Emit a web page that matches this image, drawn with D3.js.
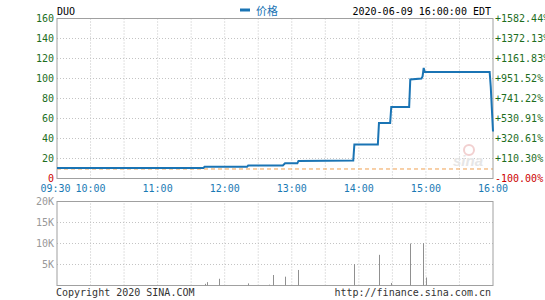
<!DOCTYPE html>
<html>
<head>
<meta charset="utf-8">
<script src="https://cdn.jsdelivr.net/npm/d3@7"></script>
<style>
  body { margin: 0; background: #fff; }
  text { font-family: "DejaVu Sans Mono", monospace; font-size: 10px; }
</style>
</head>
<body>
<div id="chart"></div>
<script>
// price steps (time, price)
const priceTimes = ["09:30","11:41","11:42","12:20","12:21","12:52","12:54","13:05","13:06","13:55","13:56","14:17","14:18","14:28","14:29","14:45","14:46","14:56","14:57","14:58","14:59","15:57","15:58","16:00"];
const prices = [10.6,10.6,11.7,11.7,13.0,13.0,15.2,15.2,17.6,17.9,34,34,55.5,55.5,71.6,71.6,99,100,102,110.6,106.5,106.5,91.5,47];
const volTimes = ["11:42","11:44","11:55","12:21","12:40","12:43","12:54","13:06","13:56","14:18","14:29","14:46","14:57","15:00"];
const volumes = [400,800,1600,500,200,2500,2100,3700,5100,7300,600,10000,10100,1900];
const prevClose = 9.51;
const priceTicks = [0,20,40,60,80,100,120,140,160];
const volTicks = [5000,10000,15000,20000];
const volTickLabels = ["5K","10K","15K","20K"];
const timeLabels = ["09:30","10:00","11:00","12:00","13:00","14:00","15:00","16:00"];

const width = 545, height = 300;
const toMin = s => { const p = s.split(":"); return +p[0]*60 + +p[1]; };

const svg = d3.select("#chart").append("svg")
    .attr("width", width).attr("height", height);

const x = d3.scaleLinear().domain([toMin("09:30"), toMin("16:00")]).range([57, 493]);
const y = d3.scaleLinear().domain([0,160]).range([178.5, 18.5]);
const vy = d3.scaleLinear().domain([0,20000]).range([285.5, 201.5]);

const gridTimes = d3.range(toMin("10:00"), toMin("16:00"), 30);

// grids
function grid(scaleY, ticks, y0, y1){
    svg.append("g").selectAll("line").data(gridTimes).enter().append("line")
        .attr("x1", d => x(d)).attr("x2", d => x(d))
        .attr("y1", y0).attr("y2", y1)
        .attr("stroke", "#c4c4c4").attr("stroke-dasharray", "1,2");
    svg.append("g").selectAll("line").data(ticks).enter().append("line")
        .attr("x1", x.range()[0]).attr("x2", x.range()[1])
        .attr("y1", d => scaleY(d)).attr("y2", d => scaleY(d))
        .attr("stroke", "#c4c4c4").attr("stroke-dasharray", "1,2");
}
grid(y, priceTicks.slice(1, -1), y(0), y(160));
grid(vy, volTicks.slice(0, -1), vy(0), vy(20000));

// watermark
svg.append("text").attr("x", 468).attr("y", 166).attr("text-anchor", "middle")
    .style("font-family", "Liberation Sans").style("font-style", "italic").style("font-weight", "bold")
    .style("font-size", "15px").attr("fill", "#e6e6e6").text("sina");
svg.append("circle").attr("cx", 469).attr("cy", 150).attr("r", 5)
    .attr("fill", "none").attr("stroke", "#f2d0d0").attr("stroke-width", 2);

// previous close
svg.append("line")
    .attr("x1", x.range()[0]).attr("x2", x.range()[1])
    .attr("y1", y(prevClose)).attr("y2", y(prevClose))
    .attr("stroke", "#f0a050").attr("stroke-dasharray", "4,3");

// frames
svg.append("rect").attr("x", 57).attr("y", y(160)).attr("width", 436).attr("height", y(0)-y(160))
    .attr("fill", "none").attr("stroke", "#a0a0a0");
svg.append("rect").attr("x", 57).attr("y", vy(20000)).attr("width", 436).attr("height", vy(0)-vy(20000))
    .attr("fill", "none").attr("stroke", "#a0a0a0");

// price line
const line = d3.line().x(d => x(toMin(d[0]))).y(d => y(d[1]));
svg.append("path").datum(priceTimes.map((t,i) => [t, prices[i]]))
    .attr("d", line).attr("fill", "none")
    .attr("stroke", "#1a74b4").attr("stroke-width", 2);

// volume bars
svg.append("g").selectAll("line").data(volTimes).enter().append("line")
    .attr("x1", d => Math.round(x(toMin(d)))+0.5).attr("x2", d => Math.round(x(toMin(d)))+0.5)
    .attr("y1", vy(0)).attr("y2", (d,i) => vy(volumes[i]))
    .attr("stroke", "#909090");

// left price labels
svg.append("g").selectAll("text").data(priceTicks).enter().append("text")
    .attr("x", 54).attr("y", d => y(d)).attr("dy", "0.35em")
    .attr("text-anchor", "end")
    .attr("fill", d => d === 0 ? "#cc0000" : "#1e6e1e")
    .text(d => d);

// right percent labels
svg.append("g").selectAll("text").data(priceTicks).enter().append("text")
    .attr("x", 495).attr("y", d => y(d)).attr("dy", "0.35em")
    .attr("fill", d => d === 0 ? "#cc0000" : "#1e6e1e")
    .text(d => { const p = (d/prevClose - 1)*100; return (p >= 0 ? "+" : "") + p.toFixed(2) + "%"; });

// time labels
svg.append("g").selectAll("text").data(timeLabels).enter().append("text")
    .attr("x", (d,i) => i === 0 ? 40.5 : x(toMin(d)))
    .attr("y", 192)
    .attr("text-anchor", (d,i) => i === 0 ? "start" : "middle")
    .attr("fill", "#1a7ab4")
    .text(d => d);

// volume labels
svg.append("g").selectAll("text").data(volTicks).enter().append("text")
    .attr("x", 54).attr("y", d => vy(d)).attr("dy", "0.35em")
    .attr("text-anchor", "end").attr("fill", "#999")
    .text((d,i) => volTickLabels[i]);

// header
svg.append("text").attr("x", 57).attr("y", 15).attr("fill", "#000").text("DUO");
svg.append("line").attr("x1", 240).attr("x2", 250).attr("y1", 10).attr("y2", 10)
    .attr("stroke", "#1a74b4").attr("stroke-width", 3);
svg.append("text").attr("x", 256).attr("y", 15).attr("fill", "#1a74b4")
    .style("font-family", "Noto Sans CJK SC").style("font-size", "11px").text("价格");
svg.append("text").attr("x", 491).attr("y", 15).attr("text-anchor", "end").attr("fill", "#000")
    .text("2020-06-09 16:00:00 EDT");

// footer
svg.append("text").attr("x", 56).attr("y", 296).attr("fill", "#333").text("Copyright 2020 SINA.COM");
svg.append("text").attr("x", 491).attr("y", 296).attr("text-anchor", "end").attr("fill", "#333")
    .text("http://finance.sina.com.cn");
</script>
</body>
</html>
